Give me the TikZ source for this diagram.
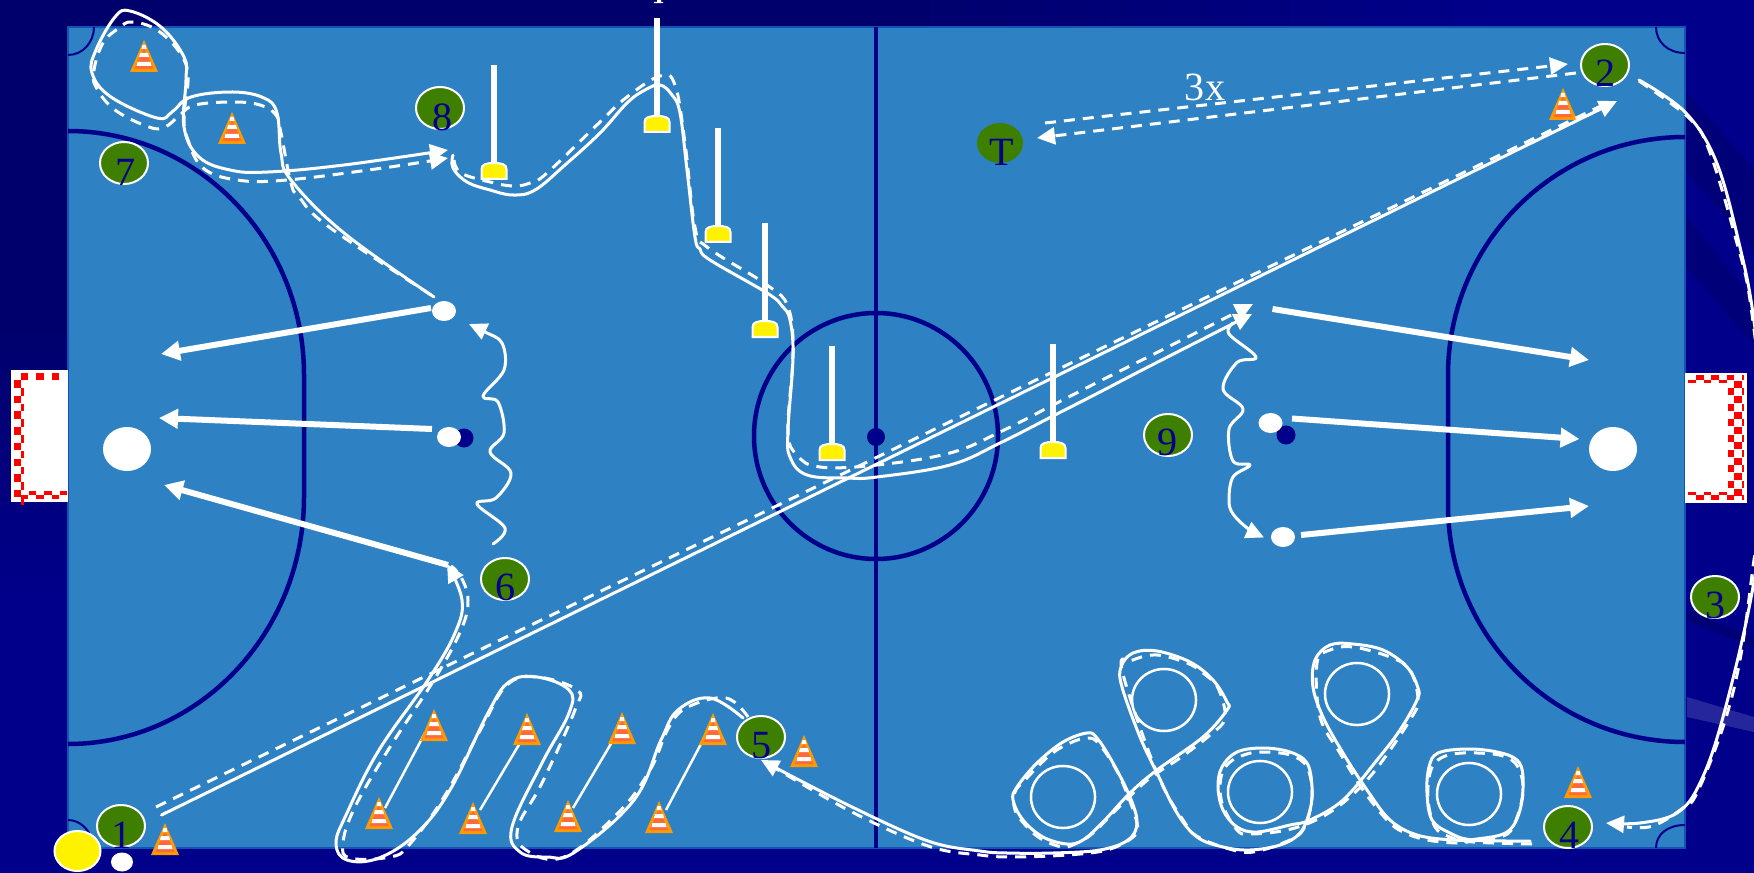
\documentclass[tikz,border=0pt]{standalone}
\usepackage{fontspec}
\setmainfont{Liberation Serif}
\usetikzlibrary{arrows.meta,shapes.geometric}
\definecolor{fieldblue}{HTML}{2E81C2}
\definecolor{navyline}{HTML}{00008B}
\definecolor{bgbase}{HTML}{00008A}
\definecolor{bgdark}{HTML}{00006C}
\definecolor{bordblue}{HTML}{1552B5}
\definecolor{playergreen}{HTML}{3F7F00}
\definecolor{coneorange}{HTML}{FF9900}
\definecolor{conered}{HTML}{FF6A3C}
\tikzset{
 fieldline/.style={draw=navyline,line width=.045cm},
 thinfield/.style={draw=navyline,line width=.02cm},
 route/.style={draw=white,line width=.03cm,line cap=round,line join=round},
 dashroute/.style={draw=white,line width=.03cm,dash pattern=on .11cm off .08cm,line join=round},
 thinhead/.style={-{Triangle[length=.18cm,width=.17cm]}},
 shot/.style={draw=white,line width=.06cm,-{Triangle[length=.19cm,width=.19cm]}},
 playerdisc/.style={ellipse,fill=playergreen,draw=white,line width=.02cm,minimum width=.48cm,minimum height=.42cm,inner sep=0pt},
 coachdisc/.style={ellipse,fill=playergreen,minimum width=.46cm,minimum height=.40cm,inner sep=0pt},
 playernum/.style={text=navyline,font=\fontsize{11.4pt}{12pt}\selectfont,inner sep=0pt},
 ballwhite/.style={ellipse,fill=white,minimum width=.24cm,minimum height=.20cm,inner sep=0pt},
 balldark/.style={ellipse,fill=navyline,minimum width=.19cm,minimum height=.19cm,inner sep=0pt},
 bigball/.style={ellipse,fill=white,minimum width=.48cm,minimum height=.44cm,inner sep=0pt},
 ringmark/.style={ellipse,draw=white,line width=.025cm,minimum width=.64cm,minimum height=.62cm,inner sep=0pt},
 pole/.pic={
  \fill[white] (-2.8,-98) rectangle (2.8,3);
  \draw[white,line width=.02cm,fill=yellow] (-12.5,16) -- (-12.5,6) .. controls (-12.5,1) and (-7,0) .. (0,0) .. controls (7,0) and (12.5,1) .. (12.5,6) -- (12.5,16) -- cycle;
 },
 cone/.pic={
  \fill[coneorange] (0,0) -- (14,32) -- (-14,32) -- cycle;
  \fill[conered] (0,8) -- (9.5,29) -- (-9.5,29) -- cycle;
  \fill[white] (-1.5,5) -- (1.5,5) -- (2.5,9) -- (-2.5,9) -- cycle;
  \fill[white] (-4,13) -- (4,13) -- (5,17) -- (-5,17) -- cycle;
  \fill[white] (-6.5,22) -- (6.5,22) -- (7.5,26) -- (-7.5,26) -- cycle;
 }
}
\begin{document}
\begin{tikzpicture}[x=.01cm,y=-.01cm]
\clip (0,0) rectangle (1754,873);
% background
\fill[bgbase] (0,0) rectangle (1754,873);
\fill[bgdark] (0,0) rectangle (900,26);
\shade[left color=bgdark,right color=bgbase] (900,0) rectangle (1500,26);
\fill[bgdark] (0,0) rectangle (68,320);
\shade[top color=bgdark,bottom color=bgbase] (0,320) rectangle (68,600);
\fill[bgdark!60!bgbase] (1685,90) -- (1754,170) -- (1754,250) -- (1685,170) -- cycle;
\fill[bgdark!60!bgbase] (1685,215) -- (1754,300) -- (1754,345) -- (1685,265) -- cycle;
\fill[bgdark!70!bgbase] (1687,610) -- (1754,638) -- (1754,648) -- (1687,620) -- cycle;
\fill[bgbase!85!white] (1687,697) -- (1754,717) -- (1754,732) -- (1687,717) -- cycle;
% field
\fill[fieldblue,draw=bordblue,line width=.015cm] (68,27) rectangle (1685,848);
% field lines
\draw[fieldline] (876,27) -- (876,848);
\draw[fieldline] (876,436) circle [x radius=122,y radius=123];
\fill[navyline] (876,437) circle [x radius=9,y radius=9];
\draw[fieldline] (68,131) .. controls (198.3,131) and (304,240.2) .. (304,375) -- (304,497) .. controls (304,633.4) and (198.3,744) .. (68,744);
\draw[fieldline] (1685,137) .. controls (1554.1,137) and (1448,243.6) .. (1448,375) -- (1448,505) .. controls (1448,635.9) and (1554.1,742) .. (1685,742);
\draw[thinfield] (68,55) .. controls (83,55) and (94,42) .. (94,27);
\draw[thinfield] (1656,27) .. controls (1656,42) and (1668,53) .. (1685,53);
\draw[thinfield] (68,820) .. controls (80,820) and (92,830) .. (94,848);
\draw[thinfield] (1656,848) .. controls (1656,834) and (1668,825) .. (1685,825);
% goals
\fill[white] (11,370) rectangle (68,502);
\foreach \k in {0,...,7}{
 \fill[red] (13.5,{380+15.7*\k}) rectangle +(7.2,7.5);
 \fill[red] (20.7,{388+15.7*\k}) rectangle +(3.5,7.5);
}
\foreach \k in {0,1,2}{
 \fill[red] ({20.7+15.5*\k},373) rectangle +(7.5,6.5);
 \fill[red] ({28.5+15.5*\k},491) rectangle +(7.5,4);
 \fill[red] ({20.7+15.5*\k},495) rectangle +(7.5,4);
}
\fill[white] (1685,373) rectangle (1747,503);
\foreach \k in {0,...,7}{
 \fill[red] (1734,{380.7+15.4*\k}) rectangle +(7.7,7);
}
\foreach \k in {0,...,6}{
 \fill[red] (1728.3,{388.3+15.4*\k}) rectangle +(5.7,7);
 \fill[red] (1741.7,{388.3+15.4*\k}) rectangle +(2.6,7);
}
\foreach \k in {0,1,2}{
 \fill[red] ({1696+15.4*\k},375) rectangle +(7.5,5);
 \fill[red] ({1688.3+15.4*\k},380) rectangle +(7.5,3.3);
 \fill[red] ({1688.3+15.4*\k},491.7) rectangle +(7.5,3.3);
 \fill[red] ({1696+15.4*\k},495) rectangle +(7.5,5);
}
\fill[red] (1741.7,375) rectangle +(2.6,5);
\fill[red] (1741.7,495) rectangle +(2.6,5);
% rings
\node[ringmark] (r1) at (1063,797) {};
\node[ringmark] (r2) at (1164,700) {};
\node[ringmark] (r3) at (1260,792) {};
\node[ringmark] (r4) at (1357,694) {};
\node[ringmark] (r5) at (1469,794) {};
% cones with their guide lines
\coordinate (g1a) at (385,808); \coordinate (g1b) at (425,733);
\coordinate (g2a) at (480,810); \coordinate (g2b) at (520,743);
\coordinate (g3a) at (573,808); \coordinate (g3b) at (612,742);
\coordinate (g4a) at (666,810); \coordinate (g4b) at (702,742);
\draw[white,line width=.025cm] (g1a) -- (g1b);
\draw[white,line width=.025cm] (g2a) -- (g2b);
\draw[white,line width=.025cm] (g3a) -- (g3b);
\draw[white,line width=.025cm] (g4a) -- (g4b);
\foreach \cx/\cy in {144/40,232/112,1563/88,165/823,379/797,434/709,473/802,527/713,568/800,622/712,659/801,713/713,804/735,1578/766}{
 \pic at (\cx,\cy) {cone};
}
% poles
\foreach \px/\py in {494/163,657/116,718/226,765/321,832/444,1053/442}{
 \pic at (\px,\py) {pole};
}
\fill[white] (657,0) rectangle (661,2) (654,2) rectangle (663,3.2);
% balls
\node[bigball] (gk1) at (127,449) {};
\node[bigball] (gk2) at (1613,449) {};
\node[balldark] (d1) at (464,438) {};
\node[ballwhite] (b1) at (444,311) {};
\node[ballwhite] (b2) at (449,437) {};
\node[balldark] (d2) at (1286,435) {};
\node[ballwhite] (b3) at (1270.5,423) {};
\node[ballwhite] (b4) at (1283,537) {};
\node[ellipse,fill=yellow,draw=white,line width=.02cm,minimum width=.46cm,minimum height=.40cm,inner sep=0pt] (start) at (77.5,851) {};
\node[ellipse,fill=white,minimum width=.22cm,minimum height=.19cm,inner sep=0pt] (startball) at (122,862) {};
% shots
\coordinate (s1a) at (431,308); \coordinate (s1b) at (161,354);
\coordinate (s2a) at (432,429); \coordinate (s2b) at (159,418);
\coordinate (s3a) at (448,565); \coordinate (s3b) at (164,485);
\coordinate (s4a) at (1272.5,309); \coordinate (s4b) at (1589,360);
\coordinate (s5a) at (1292,418.5); \coordinate (s5b) at (1579.5,439);
\coordinate (s6a) at (1301,535); \coordinate (s6b) at (1589,506);
\draw[shot] (s1a) -- (s1b);
\draw[shot] (s2a) -- (s2b);
\draw[shot] (s3a) -- (s3b);
\draw[shot] (s4a) -- (s4b);
\draw[shot] (s5a) -- (s5b);
\draw[shot] (s6a) -- (s6b);
% squiggles
\draw[route,thinhead] plot[smooth,tension=.6] coordinates {(493,544) (505,528) (477,504) (496,498) (511,473) (490,452) (504,433) (498,402) (483,396) (504,370) (502,343) (485,332) (469,324)};
\draw[route,thinhead] plot[smooth,tension=.6] coordinates {(1233,323) (1229,334) (1256,357) (1237,362.5) (1223,389) (1243,409) (1229,429) (1233,461) (1250,465) (1233,477) (1229,500) (1233,514) (1248,528.6) (1264,537.5)};
% 3x passes
\coordinate (x1a) at (1045,123); \coordinate (x1b) at (1568,64);
\coordinate (x2a) at (1576,73); \coordinate (x2b) at (1037,138);
\draw[dashroute,thinhead] (x1a) -- (x1b);
\draw[dashroute,thinhead] (x2a) -- (x2b);
\node[text=white,font=\fontsize{11.4pt}{12pt}\selectfont,inner sep=0pt] (times) at (1205,87) {3x};
% long pass 1 to 2
\coordinate (l1a) at (161.5,815); \coordinate (l1b) at (1617,101);
\coordinate (l2a) at (156,807); \coordinate (l2b) at (1607,103);
\draw[route,thinhead] (l1a) -- (l1b);
\draw[dashroute] (l2a) -- (l2b);
% run around the poles
\draw[route,thinhead] plot[smooth,tension=.65] coordinates {(453,155) (453,168) (467,182) (490,190) (513,195) (535,190) (565,165) (600,133) (627,103) (645,90) (660,85) (672,95) (680,113) (687,170) (695,237) (700,249) (710,260) (767,293) (782,306) (790,320) (793,357) (788,430) (790,457) (807,475) (847,478) (877,477) (950,465) (1000,443) (1053,416) (1100,392) (1150,366) (1252,314)};
\draw[dashroute,thinhead] plot[smooth,tension=.65] coordinates {(454,160) (461,173) (490,182) (513,186) (530,183) (547,173) (600,122) (627,97) (660,76) (675,85) (685,143) (695,227) (707,247) (767,285) (788,307) (793,353) (788,430) (797,455) (820,467) (877,465) (950,453) (1000,432) (1053,405) (1100,381) (1150,356) (1253,304)};
% run around the two top left cones
\draw[route,thinhead] plot[smooth,tension=.65] coordinates {(434,297) (344,233) (291,180) (281,153) (277,113) (264,98) (233,92) (191,97) (172,112) (157,118) (111,97) (92,73) (96,50) (115,17) (130,11) (161,27) (184,57) (186,80) (184,127) (199,157) (230,170) (268,172) (344,165) (448,150)};
\draw[dashroute,thinhead] plot[smooth,tension=.65] coordinates {(431,295) (329,227) (299,197) (291,183) (281,133) (276,115) (260,105) (233,102) (195,105) (180,115) (165,127) (149,127) (115,110) (96,87) (94,70) (103,43) (119,28) (132,22) (157,30) (180,53) (188,77) (184,117) (188,140) (203,168) (237,180) (287,180) (383,168) (448,158)};
% slalom through the cones
\draw[route,thinhead] plot[smooth,tension=.65] coordinates {(743,718) (710,698) (678,710) (661,740) (634,800) (575,852) (547,857) (520,852) (512,827) (542,763) (569,713) (569,690) (537,677) (509,682) (488,713) (450,790) (417,833) (379,858) (347,860) (336,843) (347,813) (379,750) (428,680) (455,633) (462,600) (447,564)};
\draw[dashroute] plot[smooth,tension=.65] coordinates {(748,717) (726,698) (688,707) (669,727) (650,770) (618,813) (564,857) (526,850) (518,827) (542,783) (575,710) (577,690) (537,677) (507,685) (482,727) (444,797) (409,845) (390,857) (350,858) (343,843) (355,807) (390,747) (434,680) (461,630) (468,600) (461,577) (451,566)};
% loops around the rings
\draw[route,thinhead] plot[smooth,tension=.6] coordinates {(1530,841) (1473,840) (1450,833) (1432,820) (1427,793) (1429,767) (1438,753) (1467,749) (1497,752) (1517,760) (1523,777) (1520,810) (1507,832) (1477,839) (1453,840) (1417,835) (1390,820) (1367,790) (1343,753) (1323,717) (1313,687) (1315,660) (1330,645) (1353,644) (1383,650) (1407,667) (1418,688) (1417,700) (1400,730) (1377,760) (1343,800) (1310,820) (1290,825) (1257,832) (1237,827) (1223,810) (1218,787) (1222,767) (1237,752) (1263,748) (1290,752) (1307,763) (1312,787) (1310,810) (1300,833) (1280,845) (1250,850) (1223,847) (1197,837) (1177,813) (1157,773) (1140,737) (1122,687) (1121,667) (1133,653) (1157,651) (1190,662) (1213,680) (1227,702) (1227,710) (1203,737) (1157,770) (1130,793) (1103,822) (1083,840) (1067,844) (1043,837) (1023,820) (1013,800) (1017,787) (1037,763) (1063,742) (1087,733) (1097,738) (1113,763) (1130,797) (1137,823) (1128,840) (1100,850) (1053,853) (1007,853) (980,851) (928,841) (850,806) (761,760)};
\draw[dashroute] plot[smooth,tension=.6] coordinates {(1532,844) (1473,842) (1450,837) (1435,827) (1428,800) (1430,773) (1438,760) (1453,754) (1477,753) (1503,756) (1518,767) (1523,793) (1513,827) (1500,837) (1473,841) (1457,843) (1427,840) (1403,832) (1387,820) (1363,790) (1340,753) (1320,717) (1317,663) (1330,650) (1353,647) (1390,657) (1410,670) (1418,700) (1410,720) (1377,768) (1350,797) (1320,818) (1287,830) (1250,834) (1237,830) (1222,803) (1221,777) (1230,762) (1247,754) (1263,752) (1290,755) (1307,767) (1312,797) (1303,830) (1283,843) (1253,852) (1233,850) (1200,838) (1185,823) (1157,773) (1122,670) (1133,660) (1157,655) (1187,663) (1203,673) (1218,688) (1225,718) (1210,735) (1180,758) (1150,778) (1123,803) (1093,833) (1077,843) (1063,847) (1043,840) (1028,828) (1015,810) (1015,792) (1025,780) (1050,755) (1070,743) (1088,738) (1100,745) (1120,777) (1137,823) (1133,837) (1107,850) (1067,855) (1013,857) (980,855) (928,846) (850,811) (765,762)};
% run from 2 behind the goal to 4
\draw[route,thinhead] plot[smooth,tension=.6] coordinates {(1639,80) (1685,112) (1716,161) (1739,243) (1754,321) (1768,460) (1753,587) (1723,717) (1700,783) (1677,813) (1640,823) (1606,823)};
\draw[dashroute] plot[smooth,tension=.6] coordinates {(1639,81) (1689,118) (1709,150) (1735,236) (1751,307) (1766,460) (1753,567) (1740,660) (1723,727) (1697,793) (1683,808) (1653,826) (1627,827)};
% players
\node[playerdisc] (p1) at (121,826) {};
\node[playerdisc] (p2) at (1605,65) {};
\node[playerdisc] (p3) at (1715,597) {};
\node[playerdisc] (p4) at (1568,827) {};
\node[playerdisc] (p5) at (761,737) {};
\node[playerdisc] (p6) at (505,579) {};
\node[playerdisc] (p7) at (124,163) {};
\node[playerdisc] (p8) at (440,108) {};
\node[playerdisc] (p9) at (1168,435) {};
\node[coachdisc] (pT) at (1000,143) {};
\node[playernum] (n1) at (122,835) {1};
\node[playernum] (n2) at (1606,73) {2};
\node[playernum] (n3) at (1716,605) {3};
\node[playernum] (n4) at (1570,835) {4};
\node[playernum] (n5) at (762,746) {5};
\node[playernum] (n6) at (506,587) {6};
\node[playernum] (n7) at (126,172) {7};
\node[playernum] (n8) at (443,117) {8};
\node[playernum] (n9) at (1168,442) {9};
\node[playernum] (nT) at (1002,152) {T};
\end{tikzpicture}
\end{document}
